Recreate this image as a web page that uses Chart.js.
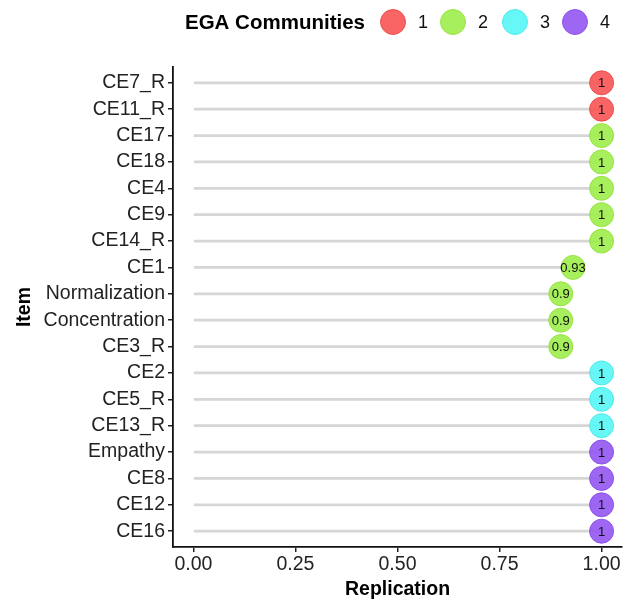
<!DOCTYPE html>
<html>
<head>
<meta charset="utf-8">
<script src="https://cdn.jsdelivr.net/npm/chart.js@4"></script>
<style>
html,body{margin:0;padding:0;background:#fff;}
#wrap{width:635px;height:601px;position:relative;}
</style>
</head>
<body>
<div id="wrap"><canvas id="c" width="635" height="601"></canvas></div>
<script>
const items = ["CE7_R","CE11_R","CE17","CE18","CE4","CE9","CE14_R","CE1","Normalization","Concentration","CE3_R","CE2","CE5_R","CE13_R","Empathy","CE8","CE12","CE16"];
const replication = [1,1,1,1,1,1,1,0.93,0.9,0.9,0.9,1,1,1,1,1,1,1];
const community = [1,1,2,2,2,2,2,2,2,2,2,3,3,3,4,4,4,4];
const communityLabels = ["1","2","3","4"];
const xTicks = [0,0.25,0.5,0.75,1];

const fillColors = {1:"rgba(248,88,88,0.92)",2:"rgba(160,238,78,0.92)",3:"rgba(90,246,246,0.92)",4:"rgba(150,90,242,0.92)"};
const borderColors = {1:"rgba(235,70,70,0.9)",2:"rgba(145,225,60,0.9)",3:"rgba(70,232,232,0.9)",4:"rgba(135,75,230,0.9)"};

const FONT = "'Liberation Sans', Arial, sans-serif";

const pointLabels = {
  id:"pointLabels",
  afterDatasetsDraw(chart){
    const ctx = chart.ctx;
    const meta = chart.getDatasetMeta(1);
    ctx.save();
    ctx.font = "13px " + FONT;
    ctx.fillStyle = "#111";
    ctx.textAlign = "center";
    ctx.textBaseline = "middle";
    meta.data.forEach((pt,i)=>{
      ctx.fillText(String(replication[i]), pt.x, pt.y+1);
    });
    ctx.restore();
  }
};

const legendPlugin = {
  id:"customLegend",
  afterDraw(chart){
    const ctx = chart.ctx;
    ctx.save();
    ctx.font = "bold 20.5px " + FONT;
    ctx.fillStyle = "#000";
    ctx.textBaseline = "middle";
    ctx.textAlign = "left";
    ctx.fillText("EGA Communities", 185, 23);
    const cx = [393,453,515,575];
    ctx.font = "18px " + FONT;
    communityLabels.forEach((lab,i)=>{
      ctx.beginPath();
      ctx.arc(cx[i], 22, 12.5, 0, Math.PI*2);
      ctx.fillStyle = fillColors[i+1];
      ctx.fill();
      ctx.lineWidth = 1;
      ctx.strokeStyle = borderColors[i+1];
      ctx.stroke();
      ctx.fillStyle = "#111";
      ctx.textAlign = "center";
      ctx.fillText(lab, cx[i]+30, 23);
    });
    ctx.restore();
  }
};

const rowIdx = items.map((_,i)=>i);

new Chart(document.getElementById("c"), {
  type:"bar",
  data:{
    datasets:[
      {
        type:"bar",
        indexAxis:"y",
        data: rowIdx.map(i=>({x:[0,replication[i]], y:i})),
        backgroundColor:"#d6d6d6",
        barThickness:2,
        order:2
      },
      {
        type:"line",
        indexAxis:"y",
        showLine:false,
        data: rowIdx.map(i=>({x:replication[i], y:i})),
        pointRadius:12,
        pointHoverRadius:12,
        pointBackgroundColor: community.map(c=>fillColors[c]),
        pointBorderColor: community.map(c=>borderColors[c]),
        pointBorderWidth:1,
        order:1
      }
    ]
  },
  options:{
    indexAxis:"y",
    responsive:false,
    animation:false,
    layout:{padding:{top:67,right:13,left:0,bottom:0}},
    plugins:{legend:{display:false},tooltip:{enabled:false}},
    scales:{
      x:{
        type:"linear",
        min:-0.05,
        max:1.05,
        offset:false,
        afterBuildTicks(scale){ scale.ticks = xTicks.map(v=>({value:v})); },
        afterFit(scale){ scale.height = 54; },
        grid:{drawOnChartArea:false, offset:false, drawTicks:true, tickLength:5, color:"#222", lineWidth:1.5},
        border:{display:true, color:"#111", width:1.8},
        ticks:{font:{size:19.5, family:FONT}, color:"#222", padding:1, maxRotation:0,
          callback:(v)=>Number(v).toFixed(2)},
        title:{display:true, text:"Replication", font:{size:19.5, weight:"bold", family:FONT}, color:"#000", padding:{top:0,bottom:0}}
      },
      y:{
        type:"linear",
        reverse:true,
        offset:false,
        min:-0.6,
        max:items.length-1+0.6,
        afterBuildTicks(scale){ scale.ticks = rowIdx.map(v=>({value:v})); },
        afterFit(scale){ scale.width = 173; },
        grid:{drawOnChartArea:false, offset:false, drawTicks:true, tickLength:5, color:"#222", lineWidth:1.5},
        border:{display:true, color:"#111", width:1.8},
        ticks:{font:{size:19.5, family:FONT}, color:"#222", padding:3, autoSkip:false,
          callback:(v)=>items[v] !== undefined ? items[v] : ""},
        title:{display:true, text:"Item", font:{size:19.5, weight:"bold", family:FONT}, color:"#000", padding:{top:13,bottom:0}}
      }
    }
  },
  plugins:[pointLabels, legendPlugin]
});
</script>
</body>
</html>
